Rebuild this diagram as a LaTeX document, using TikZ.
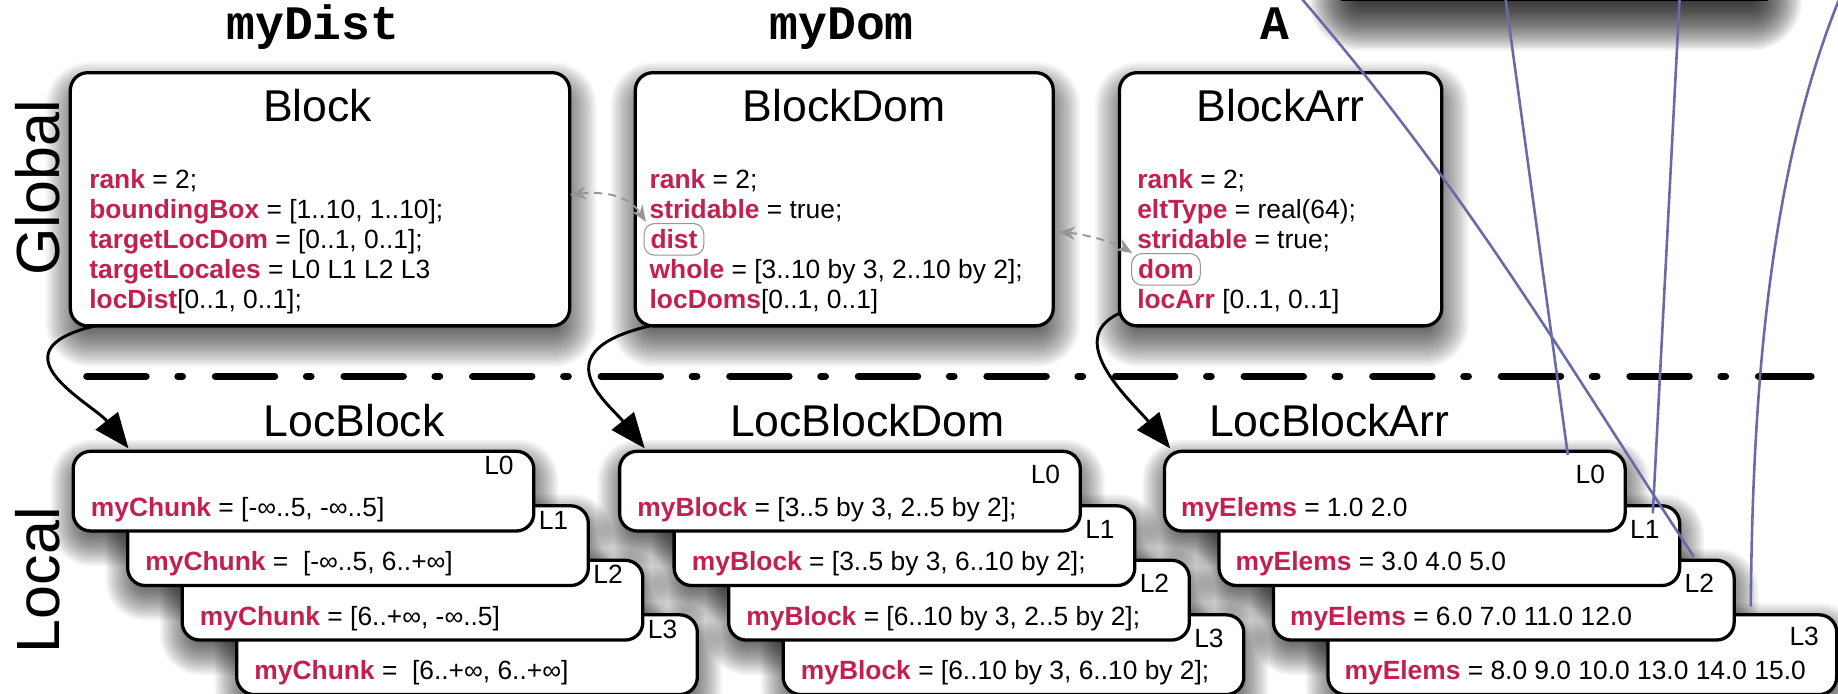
\documentclass[tikz,border=0pt]{standalone}
\usepackage{fontspec}
\setmainfont{Liberation Sans}
\newfontfamily\varmono{Liberation Mono}
\usetikzlibrary{arrows.meta,calc}
\definecolor{keyred}{RGB}{193,32,80}
\definecolor{wireblue}{RGB}{104,107,168}
\definecolor{linkgray}{RGB}{150,150,150}
\newcommand{\K}[1]{\textcolor{keyred}{\textbf{#1}}}
% soft shadow: x1,y1,x2,y2 of the box, y offset, blur radius, layer opacity
\newcommand{\softshadow}[7]{%
  \foreach \i in {0,...,29} {
    \pgfmathsetmacro{\e}{-#6+2*#6*\i/29}
    \pgfmathsetmacro{\rc}{max(1,15+\e)}
    \fill[black, opacity=#7, rounded corners=\rc pt] ({#1-\e+1},{#2-\e+#5}) rectangle ({#3+\e+1},{#4+\e+#5});
  }%
}
\tikzset{
  gbox/.style={rectangle, rounded corners=15pt, draw=black, line width=2.8pt, fill=white, inner sep=0pt, outer sep=0pt},
  lbox/.style={gbox, minimum height=68pt},
  txt/.style={anchor=base west, inner sep=0pt, font=\fontsize{22.5}{26}\selectfont},
  lbl/.style={anchor=base east, inner sep=0pt, font=\fontsize{22.5}{26}\selectfont},
  ttl/.style={anchor=base, inner sep=0pt, font=\fontsize{38}{44}\selectfont},
  vttl/.style={anchor=base, inner sep=0pt, font=\varmono\bfseries\fontsize{41}{46}\selectfont},
  side/.style={rotate=90, inner sep=0pt, font=\fontsize{52}{60}\selectfont},
  refbox/.style={anchor=base west, draw=linkgray, line width=0.9pt, rounded corners=9pt, inner xsep=5.5pt, inner ysep=3.5pt, text height=17.5pt, text depth=2.5pt, font=\fontsize{22.5}{26}\selectfont\bfseries, text=keyred},
  flow/.style={line width=2.5pt, -{Triangle[length=30pt,width=24pt,fill=black]}},
  grayarrow/.style={draw=linkgray, line width=1.6pt, dash pattern=on 7pt off 5pt, {Stealth[length=14pt,width=11pt]}-{Stealth[length=14pt,width=11pt]}},
  wire/.style={draw=wireblue, line width=2.2pt},
  separator/.style={line width=6pt, line cap=round, dash pattern=on 50.7pt off 27pt on 4pt off 28pt},
  panel/.style={fill=black, inner sep=0pt}
}
\begin{document}
\begin{tikzpicture}[x=1pt,y=-1pt]
\clip (0,0) rectangle (1568,592);
\fill[white] (0,0) rectangle (1568,592);

% dark panel at the top right, with its shadow
\softshadow{1144}{-120}{1508}{1}{14}{28}{0.06}
\node[panel, minimum width=364pt, minimum height=121pt] (panel) at (1326,-59.5) {};

% shadows of all boxes
\softshadow{60}{62}{486}{278}{13}{22}{0.035}
\softshadow{542}{62}{898.5}{278}{13}{22}{0.035}
\softshadow{955}{62}{1230}{278}{13}{22}{0.035}
\foreach \gx/\wl in {62.4/393, 528.6/393, 993.4/434} {
  \foreach \k in {0,...,3} {
    \pgfmathsetmacro{\w}{ifthenelse(\k==3,\wl,393)}
    \pgfmathsetmacro{\xa}{\gx+46.5*\k}
    \pgfmathsetmacro{\ya}{385+46.5*\k}
    \pgfmathsetmacro{\xb}{\xa+\w}
    \pgfmathsetmacro{\yb}{\ya+68}
    \softshadow{\xa}{\ya}{\xb}{\yb}{10}{20}{0.035}
  }
}

% global boxes
\node[gbox, minimum width=426pt, minimum height=216pt] (block) at (273,170) {};
\node[gbox, minimum width=356.5pt, minimum height=216pt] (blockdom) at (720.25,170) {};
\node[gbox, minimum width=275pt, minimum height=216pt] (blockarr) at (1092.5,170) {};

% local boxes
\foreach \gx/\gn/\wl in {62.4/lb/393, 528.6/ld/393, 993.4/la/434} {
  \foreach \k in {3,2,1,0} {
    \pgfmathsetmacro{\w}{ifthenelse(\k==3,\wl,393)}
    \node[lbox, minimum width=\w pt] (\gn\k) at ({\gx+46.5*\k+\w/2},{385+46.5*\k+34}) {};
  }
}

% headings
\node[vttl] (tdist) at (267,34) {myDist};
\node[vttl] (tdom) at (718,34) {myDom};
\node[vttl] (tarr) at (1088,34) {A};
\node[side] (glob) at (32,160) {Global};
\node[side] (loc) at (32,495) {Local};

\node[ttl] at ($(block.north)+(-2,42)$) {Block};
\node[ttl] at ($(blockdom.north)+(0,42)$) {BlockDom};
\node[ttl] at ($(blockarr.north)+(0,42)$) {BlockArr};
\node[ttl] at (302,372) {LocBlock};
\node[ttl] at (740,372) {LocBlockDom};
\node[ttl] at (1134,372) {LocBlockArr};

% Block contents
\node[txt] at ($(block.north west)+(16,98.5)$) {\K{rank} = 2;};
\node[txt] at ($(block.north west)+(16,124.1)$) {\K{boundingBox} = [1..10, 1..10];};
\node[txt] at ($(block.north west)+(16,149.7)$) {\K{targetLocDom} = [0..1, 0..1];};
\node[txt] at ($(block.north west)+(16,175.3)$) {\K{targetLocales} = L0 L1 L2 L3};
\node[txt] at ($(block.north west)+(16,200.9)$) {\K{locDist}[0..1, 0..1];};

% BlockDom contents
\node[txt] at ($(blockdom.north west)+(12,98.5)$) {\K{rank} = 2;};
\node[txt] at ($(blockdom.north west)+(12,124.1)$) {\K{stridable} = true;};
\node[refbox] (dist) at ($(blockdom.north west)+(7,149.7)$) {dist};
\node[txt] at ($(blockdom.north west)+(12,175.3)$) {\K{whole} = [3..10 by 3, 2..10 by 2];};
\node[txt] at ($(blockdom.north west)+(12,200.9)$) {\K{locDoms}[0..1, 0..1]};

% BlockArr contents
\node[txt] at ($(blockarr.north west)+(15,98.5)$) {\K{rank} = 2;};
\node[txt] at ($(blockarr.north west)+(15,124.1)$) {\K{eltType} = real(64);};
\node[txt] at ($(blockarr.north west)+(15,149.7)$) {\K{stridable} = true;};
\node[refbox] (dom) at ($(blockarr.north west)+(10,175.3)$) {dom};
\node[txt] at ($(blockarr.north west)+(15,200.9)$) {\K{locArr} [0..1, 0..1]};

% local contents
\node[txt] at ($(lb0.north west)+(15,55.5)$) {\K{myChunk} = [-∞..5, -∞..5]};
\node[txt] at ($(lb1.north west)+(15,55.5)$) {\K{myChunk} = \ [-∞..5, 6..+∞]};
\node[txt] at ($(lb2.north west)+(15,55.5)$) {\K{myChunk} = [6..+∞, -∞..5]};
\node[txt] at ($(lb3.north west)+(15,55.5)$) {\K{myChunk} = \ [6..+∞, 6..+∞]};

\node[txt] at ($(ld0.north west)+(15,55.5)$) {\K{myBlock} = [3..5 by 3, 2..5 by 2];};
\node[txt] at ($(ld1.north west)+(15,55.5)$) {\K{myBlock} = [3..5 by 3, 6..10 by 2];};
\node[txt] at ($(ld2.north west)+(15,55.5)$) {\K{myBlock} = [6..10 by 3, 2..5 by 2];};
\node[txt] at ($(ld3.north west)+(15,55.5)$) {\K{myBlock} = [6..10 by 3, 6..10 by 2];};

\node[txt] at ($(la0.north west)+(14,55.5)$) {\K{myElems} = 1.0 2.0};
\node[txt] at ($(la1.north west)+(14,55.5)$) {\K{myElems} = 3.0 4.0 5.0};
\node[txt] at ($(la2.north west)+(14,55.5)$) {\K{myElems} = 6.0 7.0 11.0 12.0};
\node[txt] at ($(la3.north west)+(14,55.5)$) {\K{myElems} = 8.0 9.0 10.0 13.0 14.0 15.0};

% locale labels
\foreach \k in {0,...,3} {
  \node[lbl] at ($(lb\k.north east)+(-17,20)$) {L\k};
  \node[lbl] at ($(ld\k.north east)+(-17,27.5)$) {L\k};
}
\foreach \k in {0,...,2} {
  \node[lbl] at ($(la\k.north east)+(-17,27.5)$) {L\k};
}
\node[lbl] at ($(la3.north east)+(-15,26)$) {L3};

% separator
\coordinate (sepL) at (74,321);
\coordinate (sepR) at (1545,321);
\draw[separator] (sepL) -- (sepR);

% global -> local arrows
\draw[flow] ($(block.south west)+(21,0)$) .. controls (-10,300) and (80,345) .. ($(lb0.north west)+(47.2,-2.5)$);
\draw[flow] ($(blockdom.south west)+(12.6,0)$) .. controls (460,300) and (520,345) .. ($(ld0.north west)+(21.4,-2.5)$);
\draw[flow] ($(blockarr.south west)+(0,-10.7)$) .. controls (905,290) and (968,345) .. ($(la0.north west)+(4.9,-2.5)$);

% dashed references
\draw[grayarrow] ($(block.north east)+(0,104)$) .. controls +(39,-4) and +(-11,-17) .. ($(dist.north west)+(2,-1)$);
\draw[grayarrow] ($(blockdom.north east)+(4.5,135.7)$) .. controls +(22,2) and +(-15,-9) .. ($(dom.north west)+(1,0)$);

% wires from above
\coordinate (wA) at (1108,-4);
\coordinate (wB) at (1284,-4);
\coordinate (wC) at (1433,-4);
\coordinate (wD) at (1572,-8);
\draw[wire] (wA) .. controls (1254,166) and (1330,300) .. ($(la2.north west)+(358.6,-3)$);
\draw[wire] (wB) -- ($(la0.north west)+(344.1,3)$);
\draw[wire] (wC) -- ($(la1.north west)+(370.1,6.5)$);
\draw[wire] (wD) .. controls (1510,140) and (1495,330) .. ($(la3.north west)+(360.7,-6.9)$);
\end{tikzpicture}
\end{document}
